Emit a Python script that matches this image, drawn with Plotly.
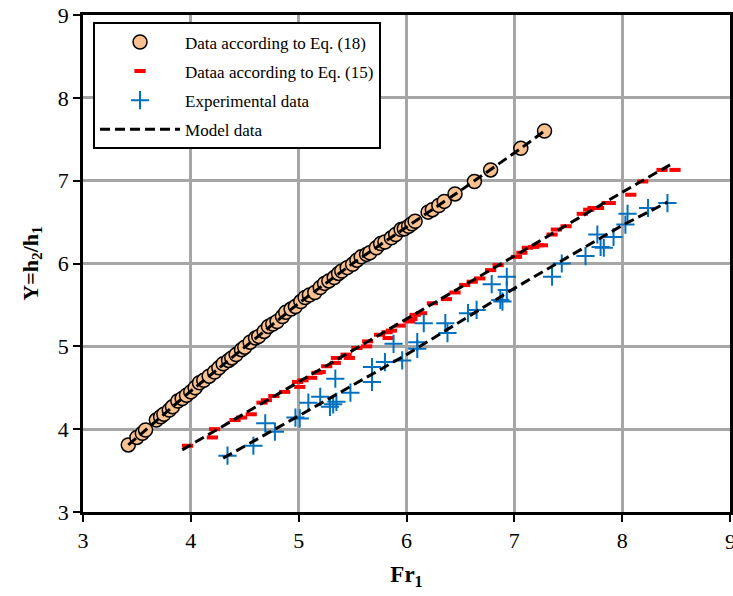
import plotly.graph_objects as go

# Data according to Eq. (18)
eq18_x = [3.42,3.50,3.55,3.58,3.68,3.72,3.75,3.80,3.83,3.88,3.92,3.96,4.00,4.04,4.08,4.12,4.17,4.22,4.26,4.30,
          4.35,4.38,4.42,4.47,4.50,4.55,4.60,4.63,4.68,4.72,4.76,4.80,4.85,4.88,4.93,4.97,5.02,5.06,5.10,5.15,
          5.20,5.24,5.28,5.33,5.37,5.40,5.45,5.50,5.54,5.58,5.63,5.66,5.72,5.76,5.80,5.86,5.90,5.95,5.98,6.02,
          6.05,6.08,6.20,6.24,6.30,6.35,6.45,6.63,6.78,7.06,7.28]
eq18_y = [3.81,3.90,3.95,3.99,4.11,4.15,4.18,4.23,4.27,4.34,4.37,4.41,4.45,4.50,4.56,4.59,4.64,4.69,4.74,4.79,
          4.83,4.86,4.90,4.96,4.99,5.05,5.10,5.12,5.18,5.24,5.27,5.30,5.36,5.41,5.45,5.48,5.54,5.59,5.62,5.65,
          5.71,5.76,5.79,5.83,5.88,5.91,5.95,5.99,6.04,6.08,6.11,6.13,6.19,6.24,6.26,6.31,6.35,6.41,6.42,6.45,
          6.48,6.51,6.62,6.65,6.70,6.75,6.84,6.99,7.13,7.39,7.60]

# Data according to Eq. (15)
eq15_x = [3.97,4.20,4.22,4.41,4.47,4.56,4.66,4.70,4.77,4.87,4.99,5.01,5.04,5.12,5.17,5.20,5.26,5.34,5.35,5.44,
          5.47,5.54,5.63,5.64,5.75,5.82,5.83,5.86,5.94,6.03,6.05,6.08,6.14,6.24,6.37,6.45,6.54,6.61,6.68,6.78,
          6.85,7.02,7.07,7.12,7.18,7.22,7.26,7.35,7.39,7.48,7.63,7.69,7.73,7.78,7.86,7.89,8.08,8.19,8.37,8.49]
eq15_y = [3.80,3.90,4.00,4.11,4.14,4.18,4.32,4.35,4.40,4.45,4.57,4.51,4.59,4.62,4.68,4.69,4.76,4.80,4.86,4.90,
          4.86,4.98,5.00,5.06,5.14,5.17,5.10,5.19,5.25,5.30,5.33,5.38,5.40,5.52,5.57,5.65,5.74,5.78,5.82,5.92,
          5.98,6.08,6.13,6.19,6.20,6.22,6.22,6.35,6.41,6.45,6.60,6.65,6.67,6.67,6.73,6.73,6.83,6.99,7.13,7.13]

# Experimental data
exp_x = [4.34,4.58,4.69,4.78,4.97,5.01,5.09,5.20,5.29,5.32,5.35,5.34,5.48,5.68,5.68,5.80,5.88,5.96,6.10,6.10,
         6.16,6.36,6.38,6.57,6.65,6.79,6.87,6.89,6.93,6.93,7.35,7.44,7.66,7.77,7.80,7.83,7.92,8.03,8.05,8.24,8.42]
exp_y = [3.68,3.80,4.07,3.97,4.14,4.13,4.32,4.39,4.27,4.30,4.33,4.61,4.44,4.75,4.57,4.81,5.03,4.83,5.05,4.97,
         5.28,5.28,5.16,5.40,5.44,5.75,5.56,5.54,5.84,5.68,5.84,6.00,6.09,6.35,6.20,6.19,6.32,6.47,6.60,6.67,6.73]

# Model data (three fitted lines)
model18_x = [3.42,3.75,4.00,4.50,5.00,5.50,6.00,6.50,7.05,7.28]
model18_y = [3.81,4.18,4.46,4.99,5.52,6.00,6.44,6.88,7.38,7.60]
model15_x = [3.92,5.00,6.00,7.00,8.00,8.47]
model15_y = [3.75,4.57,5.33,6.09,6.86,7.21]
modelexp_x = [4.30,5.00,6.00,7.00,8.00,8.42]
modelexp_y = [3.65,4.16,4.90,5.70,6.46,6.74]

x_ticks = [3, 4, 5, 6, 7, 8, 9]
y_ticks = [3, 4, 5, 6, 7, 8, 9]

SERIF = "Liberation Serif"

fig = go.Figure()
fig.add_trace(go.Scatter(
    x=eq18_x, y=eq18_y, mode="markers", name="Data according to Eq. (18)",
    legendgroup="a",
    marker=dict(symbol="circle", size=14, color="#f9c18f", line=dict(color="black", width=1.5))))
fig.add_trace(go.Scatter(
    x=eq15_x, y=eq15_y, mode="markers", name="Dataa according to Eq. (15)",
    legendgroup="b",
    marker=dict(symbol="line-ew-open", size=8, color="#ff0000", line=dict(color="#ff0000", width=4))))
fig.add_trace(go.Scatter(
    x=exp_x, y=exp_y, mode="markers", name="Experimental data",
    legendgroup="c",
    marker=dict(symbol="cross-thin-open", size=13, color="#0070c0", line=dict(color="#0070c0", width=2))))
for i, (mx, my) in enumerate([(model18_x, model18_y), (model15_x, model15_y), (modelexp_x, modelexp_y)]):
    fig.add_trace(go.Scatter(
        x=mx, y=my, mode="lines", name="Model data", legendgroup="d",
        showlegend=(i == 0),
        line=dict(color="black", width=3, dash="10px,5px")))

axis_common = dict(
    showgrid=True, gridcolor="#a6a6a6", gridwidth=3,
    showline=True, linecolor="black", linewidth=2.5, mirror=True,
    ticks="outside", ticklen=7, tickwidth=2, tickcolor="black",
    zeroline=False, automargin=False,
    tickfont=dict(family=SERIF, size=22, color="black"),
)

fig.update_layout(
    width=733, height=596,
    margin=dict(l=83, r=3, t=15, b=84),
    paper_bgcolor="white", plot_bgcolor="white",
    showlegend=True,
    legend=dict(
        x=0.0155, y=0.985, xanchor="left", yanchor="top",
        bgcolor="white", bordercolor="black", borderwidth=2,
        font=dict(family=SERIF, size=17, color="black"),
        traceorder="grouped", tracegroupgap=4,
        itemwidth=80,
    ),
    xaxis=dict(range=[3, 9], tickvals=x_ticks,
               title=dict(text="<b>Fr<sub>1</sub></b>", font=dict(family=SERIF, size=23, color="black"), standoff=14),
               **axis_common),
    yaxis=dict(range=[3, 9], tickvals=y_ticks,
               title=dict(text="<b>Y=h<sub>2</sub>/h<sub>1</sub></b>", font=dict(family=SERIF, size=22, color="black"), standoff=14),
               **axis_common),
)

# last x tick label (partly clipped at the page edge, as in the reference)
fig.add_annotation(
    x=x_ticks[-1], y=0, xref="x", yref="paper", text=str(x_ticks[-1]),
    showarrow=False, xanchor="center", yanchor="top", yshift=-15,
    font=dict(family=SERIF, size=22, color="black"),
)

fig.write_html(
    "out.html",
    config={"displayModeBar": False},
    post_script="document.body.style.margin='0';document.body.style.padding='0';document.body.style.overflow='hidden';",
)
